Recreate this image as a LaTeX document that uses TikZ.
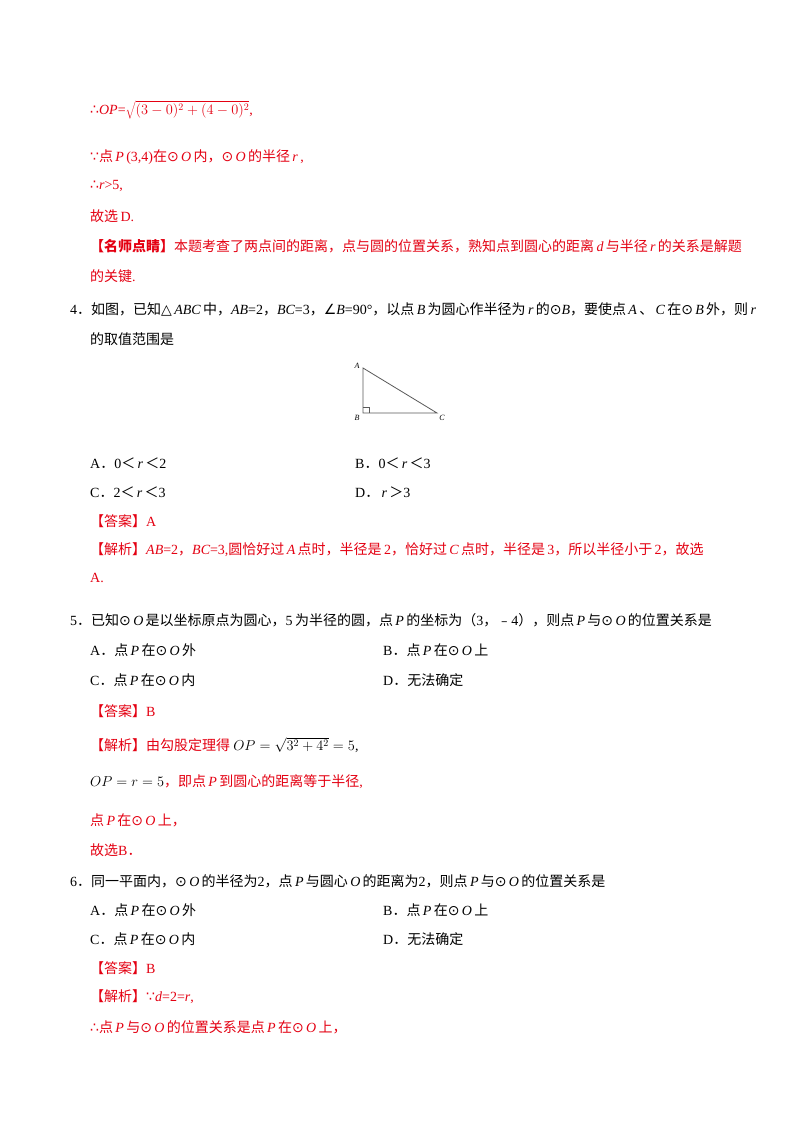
\documentclass[tikz,border=0pt]{standalone}
\usepackage{fontspec}
\setmainfont{Noto Sans CJK SC}
\newfontfamily\lat{Liberation Serif}
\newfontfamily\dv{DejaVu Sans}
\newcommand{\Lt}[1]{{\lat #1}}
\newcommand{\It}[1]{\,{\lat\itshape #1}\,}
\newcommand{\Sy}[1]{{\dv #1}}
\newcommand{\od}{\Sy{⊙}}
\definecolor{rd}{RGB}{228,0,18}
\tikzset{ln/.style={anchor=west,inner sep=0pt,font=\fontsize{14}{16}\selectfont},
 r/.style={ln,text=rd}, k/.style={ln,text=black}}
\begin{document}
\begin{tikzpicture}[x=1pt,y=-1pt]
\useasboundingbox (0,0) rectangle (800,1132);
\fill[white] (0,0) rectangle (800,1132);
\node[r] (l1) at (90,110) {\Sy{∴}{\lat\itshape OP}\Lt{=}$\sqrt{(3-0)^2+(4-0)^2}$\Lt{,}};
\node[r] (l2) at (90,157) {\Sy{∵}点\It{P}\Lt{(3,4)}在\od\It{O}内，\od\It{O}的半径\It{r}\Lt{,}};
\node[r] (l3) at (90,186) {\Sy{∴}{\lat\itshape r}\Lt{>5,}};
\node[r] (l4) at (90,216) {故选\Lt{\,D.}};
\node[r] (l5) at (90,246) {\textbf{【名师点睛】}本题考查了两点间的距离，点与圆的位置关系，熟知点到圆心的距离\It{d}与半径\It{r}的关系是解题};
\node[r] (l6) at (90,276) {的关键\Lt{.}};
\node[k] (q4) at (70,309) {\Lt{4}．如图，已知\Sy{△}\It{ABC}中，{\lat\itshape AB}\Lt{=2}，{\lat\itshape BC}\Lt{=3}，\Sy{∠}{\lat\itshape B}\Lt{=90°}，以点\It{B}为圆心作半径为\It{r}的\od{\lat\itshape B}，要使点\It{A}、\It{C}在\od\It{B}外，则\It{r}};
\node[k] (q4b) at (90,339) {的取值范围是};
\coordinate (A) at (363,368); \coordinate (B) at (363,413); \coordinate (C) at (437,413);
\draw[line width=0.8pt,gray!70!black] (A)--(B)--(C)--cycle;
\draw[line width=0.6pt,gray!70!black] (363,407)-|(369,413);
\node[font=\fontsize{8}{8}\lat\itshape,inner sep=0pt] (la) at (357,366) {A};
\node[font=\fontsize{8}{8}\lat\itshape,inner sep=0pt] (lb) at (357,418) {B};
\node[font=\fontsize{8}{8}\lat\itshape,inner sep=0pt] (lc) at (442,418) {C};
\node[k] (o4a) at (90,463) {\Lt{A}．\Lt{0}＜\It{r}＜\Lt{2}};
\node[k] (o4b) at (355,463) {\Lt{B}．\Lt{0}＜\It{r}＜\Lt{3}};
\node[k] (o4c) at (90,492) {\Lt{C}．\Lt{2}＜\It{r}＜\Lt{3}};
\node[k] (o4d) at (355,492) {\Lt{D}．\It{r}＞\Lt{3}};
\node[r] (a4) at (90,521) {【答案】\Lt{A}};
\node[r] (j4) at (90,550) {【解析】{\lat\itshape AB}\Lt{=2}，{\lat\itshape BC}\Lt{=3,}圆恰好过\It{A}点时，半径是\Lt{\,2}，恰好过\It{C}点时，半径是\Lt{\,3}，所以半径小于\Lt{\,2}，故选};
\node[r] (j4b) at (90,578) {\Lt{A.}};
\node[k] (q5) at (70,620) {\Lt{5}．已知\od\It{O}是以坐标原点为圆心，\Lt{5\,}为半径的圆，点\It{P}的坐标为（\Lt{3}，﹣\Lt{4}），则点\It{P}与\od\It{O}的位置关系是};
\node[k] (o5a) at (90,650) {\Lt{A}．点\It{P}在\od\It{O}外};
\node[k] (o5b) at (383,650) {\Lt{B}．点\It{P}在\od\It{O}上};
\node[k] (o5c) at (90,680) {\Lt{C}．点\It{P}在\od\It{O}内};
\node[k] (o5d) at (383,680) {\Lt{D}．无法确定};
\node[r] (a5) at (90,711) {【答案】\Lt{B}};
\node[r] (j5) at (90,745) {【解析】由勾股定理得\ {\color{black}$OP=\sqrt{3^2+4^2}=5$\Lt{,}}};
\node[r] (j5b) at (90,782) {{\color{black}$OP=r=5$}，即点\It{P}到圆心的距离等于半径\Lt{,}};
\node[r] (j5c) at (90,820) {点\It{P}在\od\It{O}上，};
\node[r] (j5d) at (90,850) {故选\Lt{B}．};
\node[k] (q6) at (70,881) {\Lt{6}．同一平面内，\od\It{O}的半径为\Lt{2}，点\It{P}与圆心\It{O}的距离为\Lt{2}，则点\It{P}与\od\It{O}的位置关系是};
\node[k] (o6a) at (90,910) {\Lt{A}．点\It{P}在\od\It{O}外};
\node[k] (o6b) at (383,910) {\Lt{B}．点\It{P}在\od\It{O}上};
\node[k] (o6c) at (90,939) {\Lt{C}．点\It{P}在\od\It{O}内};
\node[k] (o6d) at (383,939) {\Lt{D}．无法确定};
\node[r] (a6) at (90,968) {【答案】\Lt{B}};
\node[r] (j6) at (90,997) {【解析】\Sy{∵}{\lat\itshape d}\Lt{=2=}{\lat\itshape r}\Lt{,}};
\node[r] (j6b) at (90,1027) {\Sy{∴}点\It{P}与\od\It{O}的位置关系是点\It{P}在\od\It{O}上，};
\end{tikzpicture}
\end{document}
